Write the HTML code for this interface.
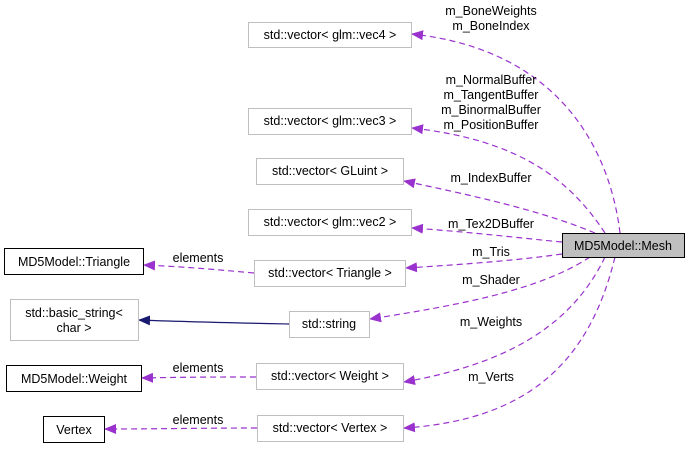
<!DOCTYPE html>
<html><head><meta charset="utf-8"><style>
body{margin:0;background:#fff;}
svg text{font-family:"Liberation Sans",Arial,sans-serif;font-size:12.5px;fill:#000;}
</style></head><body>
<svg width="689" height="448" viewBox="0 0 689 448" xmlns="http://www.w3.org/2000/svg">
<defs>
<marker id="p" markerWidth="12" markerHeight="10" refX="11" refY="5" orient="auto" markerUnits="userSpaceOnUse"><path d="M0,0 L12,5 L0,10 z" fill="#9a32cd"/></marker>
<marker id="b" markerWidth="12" markerHeight="10" refX="11" refY="5" orient="auto" markerUnits="userSpaceOnUse"><path d="M0,0 L12,5 L0,10 z" fill="#191970"/></marker>
</defs>
<g fill="none" stroke="#9a32cd" stroke-dasharray="6,4" stroke-width="1.2">
<path d="M620,233 C610,150 560,50 412,34" marker-end="url(#p)"/>
<path d="M605,233 C570,180 520,140 412,128" marker-end="url(#p)"/>
<path d="M595,233 C540,210 470,195 404,181" marker-end="url(#p)"/>
<path d="M562,242 C520,238 470,232 412,228" marker-end="url(#p)"/>
<path d="M562,254 C520,260 470,264 406,268" marker-end="url(#p)"/>
<path d="M590,257 C540,290 460,305 370,319" marker-end="url(#p)"/>
<path d="M605,257 C570,330 500,365 404,382" marker-end="url(#p)"/>
<path d="M615,257 C590,360 530,420 404,428" marker-end="url(#p)"/>
<path d="M254,273 C220,270 190,267 144,265" marker-end="url(#p)"/>
<path d="M256,377 C220,377 190,377 142,378" marker-end="url(#p)"/>
<path d="M257,428 C200,428 160,429 105,429" marker-end="url(#p)"/>
</g>
<path d="M289,324 C240,323 190,322 139,320" stroke="#191970" stroke-width="1.2" fill="none" marker-end="url(#b)"/>
<g stroke="#bfbfbf" fill="#fff">
<rect x="248.5" y="22.5" width="163" height="25"/>
<rect x="248.5" y="108.5" width="163" height="26"/>
<rect x="256.5" y="158.5" width="147" height="26"/>
<rect x="248.5" y="209.5" width="163" height="26"/>
<rect x="254.5" y="260.5" width="151" height="26"/>
<rect x="10.5" y="299.5" width="128" height="41"/>
<rect x="289.5" y="311.5" width="80" height="26"/>
<rect x="256.5" y="363.5" width="147" height="26"/>
<rect x="257.5" y="415.5" width="146" height="26"/>
</g>
<g stroke="#000" fill="#fff">
<rect x="4.5" y="248.5" width="139" height="26"/>
<rect x="6.5" y="365.5" width="135" height="26"/>
<rect x="43.5" y="416.5" width="61" height="26"/>
</g>
<rect x="562.5" y="233.5" width="122" height="24" fill="#bfbfbf" stroke="#000"/>
<g text-anchor="middle">
<text x="330" y="39">std::vector&lt; glm::vec4 &gt;</text>
<text x="330" y="125">std::vector&lt; glm::vec3 &gt;</text>
<text x="330" y="175">std::vector&lt; GLuint &gt;</text>
<text x="330" y="226">std::vector&lt; glm::vec2 &gt;</text>
<text x="623" y="250">MD5Model::Mesh</text>
<text x="74" y="266">MD5Model::Triangle</text>
<text x="330" y="277">std::vector&lt; Triangle &gt;</text>
<text x="74" y="317">std::basic_string&lt;</text>
<text x="74" y="332">char &gt;</text>
<text x="329" y="328">std::string</text>
<text x="74" y="383">MD5Model::Weight</text>
<text x="330" y="380">std::vector&lt; Weight &gt;</text>
<text x="74" y="434">Vertex</text>
<text x="330" y="432">std::vector&lt; Vertex &gt;</text>
<text x="491" y="15">m_BoneWeights</text>
<text x="491" y="30">m_BoneIndex</text>
<text x="491" y="84">m_NormalBuffer</text>
<text x="491" y="99">m_TangentBuffer</text>
<text x="491" y="114">m_BinormalBuffer</text>
<text x="491" y="129">m_PositionBuffer</text>
<text x="491" y="182">m_IndexBuffer</text>
<text x="491" y="228">m_Tex2DBuffer</text>
<text x="491" y="256">m_Tris</text>
<text x="491" y="284">m_Shader</text>
<text x="491" y="326">m_Weights</text>
<text x="491" y="381">m_Verts</text>
<text x="198" y="262">elements</text>
<text x="198" y="372">elements</text>
<text x="198" y="424">elements</text>
</g>
</svg>
</body></html>
